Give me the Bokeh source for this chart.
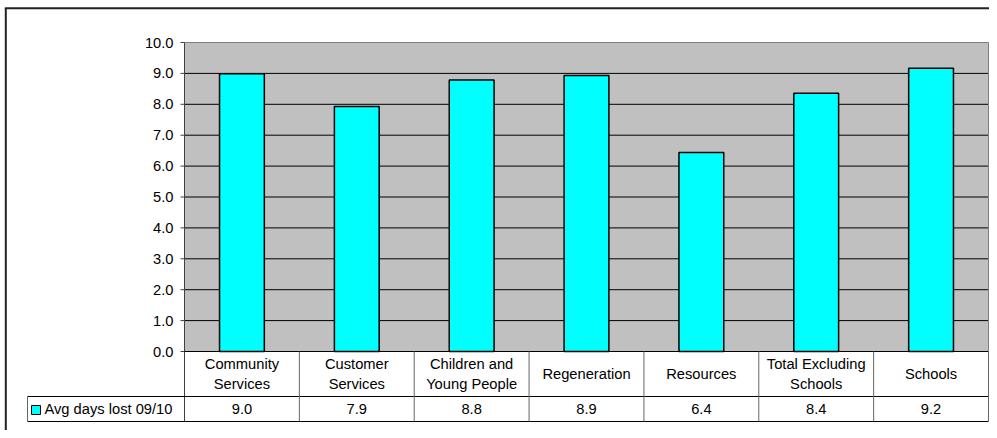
from bokeh.plotting import figure
from bokeh.models import Range1d, ColumnDataSource
from bokeh.core.properties import value
from bokeh.embed import file_html
from bokeh.resources import INLINE

# ---------------- data ----------------
categories = ["Community Services", "Customer Services", "Children and Young People",
              "Regeneration", "Resources", "Total Excluding Schools", "Schools"]
category_labels = ["Community\nServices", "Customer\nServices", "Children and\nYoung People",
                   "Regeneration", "Resources", "Total Excluding\nSchools", "Schools"]
avg_days_lost = [8.99, 7.93, 8.79, 8.93, 6.44, 8.36, 9.17]
series_name = "Avg days lost 09/10"
y_ticks = [0.0, 1.0, 2.0, 3.0, 4.0, 5.0, 6.0, 7.0, 8.0, 9.0, 10.0]

# ---------------- layout (picture pixels) ----------------
W, H = 989, 430
FRAME_L, FRAME_R, FRAME_T, FRAME_B = 184, 988, 42, 351
ROW1_B, ROW2_B, LEG_L = 396, 421, 27
FONT = "Liberation Sans"
FS = "14.7px"
n = len(categories)
y_max = y_ticks[-1]


def dx(px):
    return (px - FRAME_L) / (FRAME_R - FRAME_L) * n


def dy(py):
    return (FRAME_B - py) / (FRAME_B - FRAME_T) * y_max


p = figure(width=W, height=H, output_backend="svg", toolbar_location=None,
           x_range=Range1d(dx(0), dx(W)), y_range=Range1d(dy(H), dy(0)),
           x_axis_location=None, y_axis_location=None,
           min_border=0, min_border_left=0, min_border_right=0,
           min_border_top=0, min_border_bottom=0)
p.outline_line_color = None
p.background_fill_color = "white"
p.border_fill_color = "white"
p.grid.visible = False

# plot area background
p.quad(left=[0], right=[n], bottom=[0], top=[y_max], fill_color="#C0C0C0", line_color=None)

# horizontal grid lines
grid_t = [t for t in y_ticks if 0 < t < y_max]
p.segment(x0=[0] * len(grid_t), x1=[n] * len(grid_t), y0=grid_t, y1=grid_t,
          line_color="black", line_width=1)

# bars
x_pos = [i + 0.5 for i in range(n)]
src = ColumnDataSource(dict(x=x_pos, val=avg_days_lost, cat=categories))
p.vbar(x="x", top="val", width=0.39, source=src,
       fill_color="#00FFFF", line_color="black", line_width=1.5)

# plot-area outline (top and right, gray)
p.segment(x0=[0, n], x1=[n, n], y0=[y_max, y_max], y1=[y_max, 0],
          line_color="#808080", line_width=1)

# y axis: line, ticks, labels
p.segment(x0=[0], x1=[0], y0=[dy(ROW2_B)], y1=[y_max], line_color="#404040", line_width=1)
p.segment(x0=[dx(FRAME_L - 4)] * len(y_ticks), x1=[0] * len(y_ticks), y0=y_ticks, y1=y_ticks,
          line_color="#404040", line_width=1)
p.text(x=[dx(FRAME_L - 11)] * len(y_ticks), y=y_ticks, text=[f"{t:.1f}" for t in y_ticks],
       text_align="right", text_baseline="middle", text_font=value(FONT),
       text_font_size=value(FS), text_color="black")

# ---------------- data table ----------------
y1, y2 = dy(ROW1_B), dy(ROW2_B)
xl = dx(LEG_L)
# horizontal black lines
p.segment(x0=[0, xl, xl], x1=[n, n, n], y0=[0, y1, y2], y1=[0, y1, y2],
          line_color="black", line_width=1)
# vertical lines
vx = [float(i) for i in range(1, n + 1)]
p.segment(x0=vx + [xl], x1=vx + [xl], y0=[0] * n + [y1], y1=[y2] * (n + 1),
          line_color="#666666", line_width=1)

row1_y = y1 / 2
row2_y = (y1 + y2) / 2
p.text(x=x_pos, y=[row1_y] * n, text=category_labels, text_align="center",
       text_baseline="middle", text_font=value(FONT), text_font_size=value(FS),
       text_color="black", text_line_height=1.25)
p.text(x=x_pos, y=[row2_y] * n, text=[f"{v:.1f}" for v in avg_days_lost],
       text_align="center", text_baseline="middle", text_font=value(FONT),
       text_font_size=value(FS), text_color="black")

# legend key + series name
p.quad(left=[dx(31)], right=[dx(40)], top=[dy(405)], bottom=[dy(414)],
       fill_color="#00FFFF", line_color="black", line_width=1)
p.text(x=[dx(44)], y=[row2_y], text=[series_name], text_align="left",
       text_baseline="middle", text_font=value(FONT), text_font_size=value(FS),
       text_color="black")

# outer chart-area border (left and top)
p.segment(x0=[dx(5.3), dx(4.3)], x1=[dx(5.3), dx(W)], y0=[dy(7.7), dy(7.7)], y1=[dy(H), dy(7.7)],
          line_color="#222222", line_width=2)

open("out.html", "w").write(file_html(p, INLINE))
